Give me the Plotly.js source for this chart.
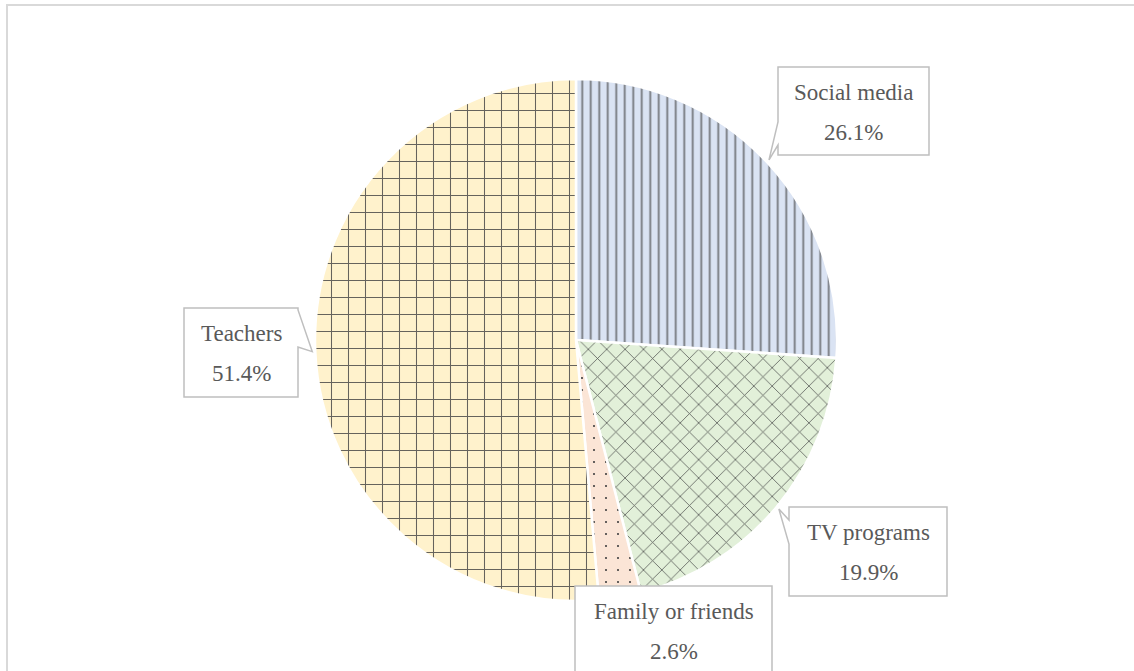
<!DOCTYPE html>
<html><head><meta charset="utf-8">
<script src="https://cdn.plot.ly/plotly-3.0.1.min.js"></script>
<style>html,body{margin:0;padding:0;background:#fff;overflow:hidden}
#chart{position:absolute;left:0;top:0;width:1134px;height:671px}</style>
</head><body><div id="chart"></div>
<script>
// ---- data ----
const labels = ['Social media', 'TV programs', 'Family or friends', 'Teachers'];
const values = [26.1, 19.9, 2.6, 51.4];
const percentText = ['26.1%', '19.9%', '2.6%', '51.4%'];

// ---- styles ----
const fillColors = ['#dae3f3', '#e2f0d9', '#fbe5d6', '#fff2cc'];
const patternShapes = ['|', 'x', '.', '+'];
const patternSizes = [8.5, 13, 12, 17];
const patternSolidity = [0.22, 0.12, 0.025, 0.12];
const patternFg = ['rgba(64,64,64,0.65)', 'rgba(64,64,64,0.85)', 'rgba(64,64,64,1)', 'rgba(64,64,64,0.8)'];

const W = 1134, H = 671;
const pieCx = 576, pieCy = 340, pieR = 261; // layout in px
// callout boxes in px [x0,y0,x1,y1] and pointer base on a side
const boxes = [[778, 67, 929, 155], [789, 507, 947, 596], [575, 586, 772, 690], [184, 308, 298, 397]];
const pointers = [{side: 'left', a: 122, b: 145}, {side: 'left', a: 520, b: 544}, null, {side: 'right', a: 310, b: 347}];

const px = x => x / W, py = y => 1 - y / H;

const total = values.reduce((s, v) => s + v, 0);
let cum = 0;
const shapes = [];
const annotations = [];
// outer chart frame
shapes.push({type: 'rect', xref: 'paper', yref: 'paper', x0: px(7), y0: py(5), x1: px(1200), y1: py(800),
  line: {color: '#d9d9d9', width: 2}, fillcolor: 'rgba(0,0,0,0)', layer: 'below'});

values.forEach((v, i) => {
  const mid = (cum + v / 2) / total * 2 * Math.PI;
  cum += v;
  const tipX = pieCx + (pieR + 3) * Math.sin(mid);
  const tipY = pieCy - (pieR + 3) * Math.cos(mid);
  const [x0, y0, x1, y1] = boxes[i];
  const p = pointers[i];
  let pts = [[x0, y0], [x1, y0]];
  if (p && p.side === 'right') pts.push([x1, p.a], [tipX, tipY], [x1, p.b]);
  pts.push([x1, y1], [x0, y1]);
  if (p && p.side === 'left') pts.push([x0, p.b], [tipX, tipY], [x0, p.a]);
  const path = 'M' + pts.map(q => px(q[0]) + ',' + py(q[1])).join('L') + 'Z';
  shapes.push({type: 'path', xref: 'paper', yref: 'paper', path: path,
    fillcolor: '#ffffff', line: {color: '#bfbfbf', width: 1.5}, layer: 'above'});
  const cxb = (x0 + x1) / 2;
  const font = {family: 'Liberation Serif, DejaVu Serif, serif', size: 23, color: '#595959'};
  annotations.push({xref: 'paper', yref: 'paper', x: px(cxb), y: py(y0 + 25), text: labels[i],
    showarrow: false, xanchor: 'center', yanchor: 'middle', font: font});
  annotations.push({xref: 'paper', yref: 'paper', x: px(cxb), y: py(y0 + 65), text: percentText[i],
    showarrow: false, xanchor: 'center', yanchor: 'middle', font: font});
});

const trace = {
  type: 'pie', labels: labels, values: values, sort: false, direction: 'clockwise', rotation: 0,
  textinfo: 'none', hoverinfo: 'label+percent', showlegend: false,
  domain: {x: [px(pieCx - pieR), px(pieCx + pieR)], y: [py(pieCy + pieR), py(pieCy - pieR)]},
  marker: {
    colors: fillColors,
    line: {color: '#ffffff', width: 2.5},
    pattern: {shape: patternShapes, size: patternSizes, solidity: patternSolidity,
      fgcolor: patternFg, bgcolor: fillColors, fillmode: 'replace'}
  }
};

const layout = {
  width: W, height: H, margin: {l: 0, r: 0, t: 0, b: 0},
  paper_bgcolor: '#ffffff', plot_bgcolor: '#ffffff',
  showlegend: false, shapes: shapes, annotations: annotations
};
Plotly.newPlot('chart', [trace], layout, {displayModeBar: false, staticPlot: true});
</script></body></html>
